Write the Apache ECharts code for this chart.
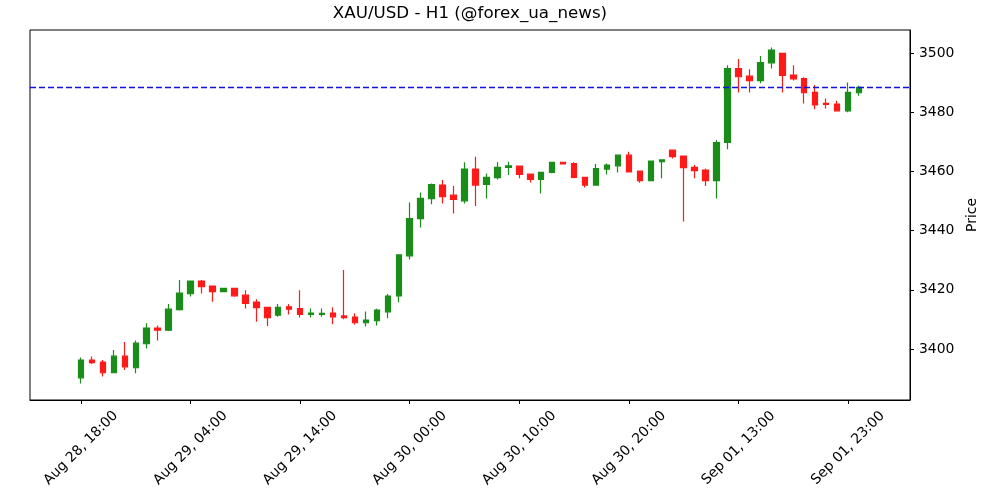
<!DOCTYPE html>
<html>
<head>
<meta charset="utf-8">
<title>XAU/USD - H1</title>
<script src="https://cdn.jsdelivr.net/npm/echarts@6/dist/echarts.min.js"></script>
<style>
  html, body { margin: 0; padding: 0; background: #fff; }
  #chart { width: 1000px; height: 500px; }
</style>
</head>
<body>
<div id="chart"></div>
<script>
// hourly candles, one entry per bar
const times = [
  'Aug 28, 18:00', 'Aug 28, 19:00', 'Aug 28, 20:00', 'Aug 28, 21:00', 'Aug 28, 22:00', 'Aug 28, 23:00',
  'Aug 29, 00:00', 'Aug 29, 01:00', 'Aug 29, 02:00', 'Aug 29, 03:00', 'Aug 29, 04:00', 'Aug 29, 05:00',
  'Aug 29, 06:00', 'Aug 29, 07:00', 'Aug 29, 08:00', 'Aug 29, 09:00', 'Aug 29, 10:00', 'Aug 29, 11:00',
  'Aug 29, 12:00', 'Aug 29, 13:00', 'Aug 29, 14:00', 'Aug 29, 15:00', 'Aug 29, 16:00', 'Aug 29, 17:00',
  'Aug 29, 18:00', 'Aug 29, 19:00', 'Aug 29, 20:00', 'Aug 29, 21:00', 'Aug 29, 22:00', 'Aug 29, 23:00',
  'Aug 30, 00:00', 'Aug 30, 01:00', 'Aug 30, 02:00', 'Aug 30, 03:00', 'Aug 30, 04:00', 'Aug 30, 05:00',
  'Aug 30, 06:00', 'Aug 30, 07:00', 'Aug 30, 08:00', 'Aug 30, 09:00', 'Aug 30, 10:00', 'Aug 30, 11:00',
  'Aug 30, 12:00', 'Aug 30, 13:00', 'Aug 30, 14:00', 'Aug 30, 15:00', 'Aug 30, 16:00', 'Aug 30, 17:00',
  'Aug 30, 18:00', 'Aug 30, 19:00', 'Aug 30, 20:00', 'Aug 30, 21:00', 'Aug 30, 22:00', 'Aug 30, 23:00',
  'Sep 01, 07:00', 'Sep 01, 08:00', 'Sep 01, 09:00', 'Sep 01, 10:00', 'Sep 01, 11:00', 'Sep 01, 12:00',
  'Sep 01, 13:00', 'Sep 01, 14:00', 'Sep 01, 15:00', 'Sep 01, 16:00', 'Sep 01, 17:00', 'Sep 01, 18:00',
  'Sep 01, 19:00', 'Sep 01, 20:00', 'Sep 01, 21:00', 'Sep 01, 22:00', 'Sep 01, 23:00', 'Sep 02, 00:00'
]

const opens = [
  3390.3, 3396.3, 3395.6, 3392.0, 3397.6, 3393.7, 3401.8, 3407.1, 3406.4, 3413.3,
  3418.7, 3423.0, 3421.3, 3419.4, 3420.5, 3418.2, 3415.9, 3414.1, 3411.5, 3414.3,
  3413.7, 3411.7, 3411.7, 3412.2, 3411.2, 3410.8, 3408.9, 3409.6, 3412.6, 3418.0,
  3431.5, 3444.1, 3450.8, 3455.4, 3452.0, 3450.1, 3460.8, 3455.6, 3457.9, 3461.4,
  3461.8, 3459.1, 3457.3, 3459.7, 3463.1, 3462.7, 3458.0, 3455.4, 3460.8, 3461.9,
  3465.5, 3460.1, 3456.9, 3463.3, 3467.2, 3465.2, 3461.4, 3460.5, 3456.9, 3469.8,
  3494.8, 3492.2, 3490.7, 3496.7, 3499.9, 3492.6, 3491.4, 3486.7, 3483.0, 3482.8,
  3480.5, 3486.6
]
const highs = [
  3397.2, 3397.5, 3396.3, 3399.7, 3402.4, 3402.9, 3408.7, 3408.0, 3415.2, 3423.3,
  3423.0, 3423.3, 3421.3, 3420.5, 3420.5, 3419.9, 3416.8, 3414.1, 3415.2, 3415.2,
  3419.9, 3413.7, 3413.7, 3414.1, 3426.7, 3412.1, 3412.7, 3413.6, 3418.6, 3431.8,
  3449.5, 3452.9, 3455.9, 3457.1, 3455.1, 3463.1, 3465.0, 3459.3, 3463.1, 3463.3,
  3461.8, 3459.1, 3459.7, 3463.1, 3463.1, 3463.1, 3458.0, 3462.5, 3462.7, 3465.5,
  3466.7, 3460.1, 3463.5, 3463.9, 3467.2, 3465.2, 3462.2, 3461.0, 3470.6, 3495.9,
  3498.0, 3494.5, 3499.0, 3501.9, 3499.9, 3495.9, 3491.8, 3489.2, 3484.7, 3483.9,
  3490.1, 3489.0
]
const lows = [
  3388.4, 3395.0, 3390.7, 3391.8, 3392.9, 3391.8, 3400.2, 3402.9, 3406.1, 3413.0,
  3417.8, 3418.8, 3416.0, 3419.4, 3417.7, 3413.7, 3409.2, 3407.8, 3410.9, 3411.7,
  3410.7, 3410.7, 3410.9, 3408.4, 3410.1, 3408.3, 3407.6, 3408.0, 3410.4, 3415.8,
  3430.3, 3441.1, 3448.9, 3449.2, 3445.8, 3449.2, 3448.3, 3450.9, 3457.3, 3458.8,
  3457.7, 3456.3, 3452.6, 3459.4, 3462.6, 3457.7, 3454.6, 3455.4, 3459.0, 3459.7,
  3459.9, 3456.2, 3456.9, 3457.7, 3464.4, 3443.1, 3457.7, 3455.1, 3450.9, 3467.5,
  3486.7, 3486.7, 3489.8, 3494.8, 3486.7, 3490.7, 3483.0, 3481.0, 3481.3, 3480.5,
  3480.0, 3485.6
]
const closes = [
  3396.3, 3395.4, 3392.0, 3397.6, 3394.0, 3402.0, 3407.1, 3406.4, 3413.5, 3418.9,
  3423.0, 3421.1, 3419.4, 3420.5, 3418.0, 3415.4, 3414.0, 3410.6, 3414.1, 3413.5,
  3411.7, 3412.2, 3412.1, 3410.9, 3410.6, 3408.9, 3409.8, 3413.2, 3417.9, 3431.8,
  3444.1, 3450.9, 3455.6, 3451.5, 3450.6, 3460.8, 3455.4, 3458.0, 3461.4, 3461.9,
  3459.0, 3457.3, 3459.7, 3463.1, 3462.6, 3458.0, 3455.4, 3461.0, 3462.2, 3465.5,
  3459.9, 3456.9, 3463.5, 3463.9, 3465.0, 3461.3, 3460.3, 3456.9, 3469.8, 3494.8,
  3492.0, 3490.7, 3496.8, 3501.0, 3492.5, 3491.3, 3486.6, 3482.5, 3482.7, 3480.5,
  3486.7, 3488.4
]

// bars that get a date label, and the price ticks
const labelIndexes = [0, 10, 20, 30, 40, 50, 60, 70]
const priceTicks = [3400, 3420, 3440, 3460, 3480, 3500]
const lastPrice = closes[closes.length - 1]

const candles = opens.map((o, i) => [i, o, closes[i], lows[i], highs[i]])

const font = 'DejaVu Sans'
const chart = echarts.init(document.getElementById('chart'))

const option = {
  animation: false,
  title: {
    text: 'XAU/USD - H1 (@forex_ua_news)',
    left: 470,
    top: 5,
    textAlign: 'center',
    padding: 0,
    textStyle: {
      fontFamily: font,
      fontSize: 16.7,
      fontWeight: 'normal',
      color: '#000'
    }
  },
  grid: {
    left: 30,
    right: 90,
    top: 30,
    bottom: 100,
    show: true,
    borderColor: '#000',
    borderWidth: 1,
    backgroundColor: 'transparent'
  },
  xAxis: {
    type: 'value',
    min: -4.65,
    max: 75.65,
    splitLine: { show: false },
    axisLine: { show: true, onZero: false, lineStyle: { color: '#000', width: 1 } },
    axisTick: {
      show: true,
      length: 4,
      customValues: labelIndexes,
      lineStyle: { color: '#000' }
    },
    axisLabel: {
      customValues: labelIndexes,
      formatter: (v) => times[v] || '',
      rotate: 45,
      align: 'center',
      verticalAlign: 'middle',
      margin: 48,
      fontFamily: font,
      fontSize: 13.9,
      color: '#000'
    }
  },
  yAxis: {
    type: 'value',
    position: 'right',
    min: 3382.8,
    max: 3507.8,
    name: 'Price',
    nameLocation: 'middle',
    nameRotate: 90,
    nameGap: 40,
    nameTextStyle: {
      fontFamily: font,
      fontSize: 13.9,
      color: '#000'
    },
    splitLine: { show: false },
    axisLine: { show: true, onZero: false, lineStyle: { color: '#000', width: 1 } },
    axisTick: {
      show: true,
      length: 4,
      customValues: priceTicks,
      lineStyle: { color: '#000' }
    },
    axisLabel: {
      customValues: priceTicks,
      formatter: (v) => String(v),
      margin: 9,
      fontFamily: font,
      fontSize: 13.9,
      color: '#000'
    }
  },
  series: [
    {
      type: 'candlestick',
      data: candles,
      encode: { x: 0, y: [1, 2, 3, 4] },
      barWidth: 6,
      itemStyle: {
        color: '#1a8c1a',
        color0: '#ff1a1a',
        borderColor: '#1a8c1a',
        borderColor0: '#ff1a1a',
        borderWidth: 1.2
      },
      emphasis: { disabled: true },
      markLine: {
        silent: true,
        symbol: ['none', 'none'],
        label: { show: false },
        itemStyle: { color: '#1010e0' },
        lineStyle: { color: '#1010e0', type: [6, 3], width: 1.3, opacity: 1 },
        emphasis: { disabled: true },
        data: [{ yAxis: lastPrice }]
      }
    }
  ]
}

chart.setOption(option)
</script>
</body>
</html>
